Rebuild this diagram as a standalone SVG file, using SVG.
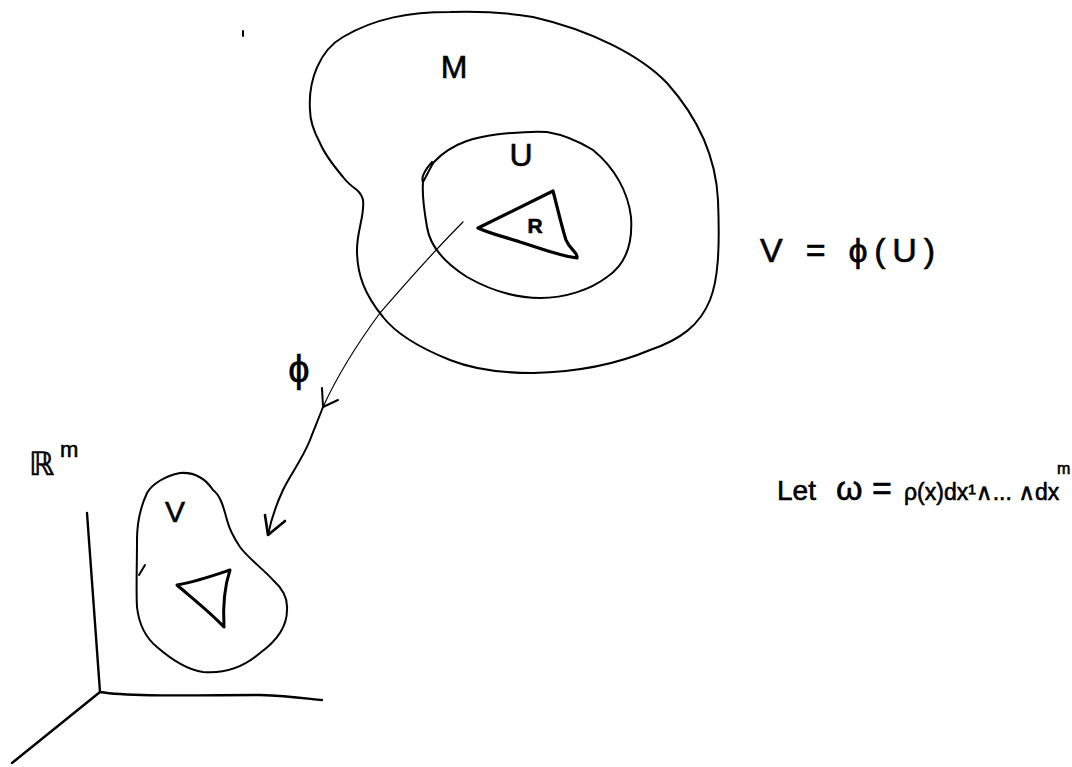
<svg xmlns="http://www.w3.org/2000/svg" width="1072" height="767" viewBox="0 0 1072 767">
<style>
.ln{fill:none;stroke:#000;stroke-linecap:round;stroke-linejoin:round}
.t{font-family:"Liberation Sans","DejaVu Sans",sans-serif;fill:#000;stroke:#000;stroke-width:0.6}
</style>
<rect width="1072" height="767" fill="#fff"/>
<g id="M">
<path class="ln" stroke-width="2" d="M310,110 C308,80 320,50 343,37 C375,18 410,12 450,12 C480,11 510,13 533,17 C590,30 640,55 667,83 C700,120 716,160 718,200 C720,250 718,280 710,300 C700,325 680,340 650,350 C615,365 575,372 533,373 C500,373 470,368 450,360 C420,348 397,335 383,317 C365,295 357,275 357,250 C357,230 365,215 363,200 C362,195 360,193 357,190 C350,185 346,181 343,177 C333,165 325,155 320,143 C313,130 310,120 310,110 Z"/>
<text class="t" x="454" y="78" font-size="32" text-anchor="middle">M</text>
</g>
<g id="U">
<path class="ln" stroke-width="2" d="M432,162 C425,170 421,178 423,182 C427,175 430,168 434,162 C455,140 480,137 500,134 C520,132 535,131 547,132 C565,135 580,142 593,150 C615,168 628,192 631,217 C633,245 625,265 607,277 C590,290 565,298 540,298 C515,298 490,290 467,277 C445,263 430,247 427,227 C424,210 422,195 423,182"/>
<text class="t" x="521" y="166" font-size="32" text-anchor="middle">U</text>
</g>
<g id="R">
<path class="ln" stroke-width="3.2" d="M478,228 L553,191 C558,210 562,228 566,240 C570,250 578,252 577,258 C560,256 540,248 520,242 C505,237 488,233 478,228 Z"/>
<text class="t" x="535" y="233" font-size="21" text-anchor="middle" font-weight="bold">R</text>
</g>
<g id="Rm">
<path class="ln" stroke-width="2.4" d="M87,513 L100,692 M100,692 C130,697 200,695 260,695 C290,696 310,699 322,700 M100,692 L12,763"/>
<text class="t" x="29" y="475" font-size="32" font-family="DejaVu Serif,serif">ℝ</text>
<text class="t" x="60" y="457" font-size="22">m</text>
</g>
<g id="V">
<path class="ln" stroke-width="2" d="M180,473 C165,476 152,484 147,493 C140,508 137,525 137,540 C137,565 136,590 137,607 C139,625 146,638 157,647 C172,660 188,670 203,672 C225,674 245,666 260,653 C278,640 287,625 287,610 C288,598 282,588 273,580 C262,568 248,558 240,547 C232,535 229,528 227,520 C223,505 220,495 213,490 C205,478 193,472 180,473 Z"/>
<path class="ln" stroke-width="2" d="M139,575 L145,565"/>
<text class="t" x="175" y="522" font-size="30" text-anchor="middle">V</text>
<path class="ln" stroke-width="3" d="M177,585 C195,582 215,575 230,570 C224,588 223,610 224,627 C210,612 192,598 177,585 Z"/>
</g>
<g id="connectors">
<path class="ln" stroke-width="1.2" d="M463,222 C430,255 400,290 380,313 C360,340 340,370 323,407"/>
<path class="ln" stroke-width="2" d="M322,388 L323,407 L338,400"/>
<path class="ln" stroke-width="2" d="M323,407 C318,420 313,432 310,440 C302,460 290,475 283,490 C276,505 271,520 268,535"/>
<path class="ln" stroke-width="2.6" d="M265,515 L268,535 L285,521"/>
<text class="t" x="299" y="382" font-size="38" text-anchor="middle" font-family="DejaVu Sans,sans-serif">ϕ</text>
</g>
<path class="ln" stroke-width="2" d="M243,31 L243,36"/>
<g id="eq1">
<text class="t" x="760" y="262" font-size="34" textLength="175">V = ϕ(U)</text>
</g>
<g id="eq2">
<text class="t" x="777" y="500" font-size="28">Let</text>
<text class="t" x="836" y="500" font-size="34">ω =</text>
<text class="t" x="904" y="500" font-size="23">ρ(x)dx¹∧... ∧dx</text>
<text class="t" x="1057" y="474" font-size="16">m</text>
</g>
</svg>
